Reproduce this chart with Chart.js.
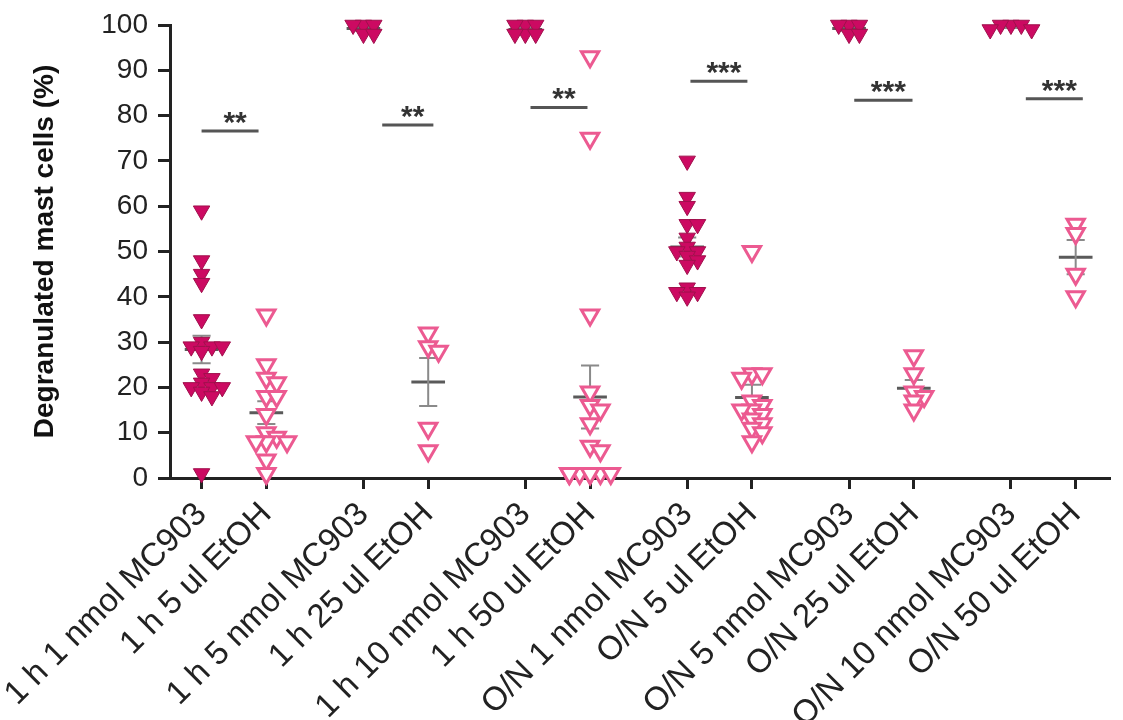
<!DOCTYPE html>
<html lang="en">
<head>
    <meta charset="UTF-8">
    <title>Degranulated mast cells</title>
    <style>
        body { margin: 0; background: #fff; }
        #wrap { width: 1123px; height: 720px; }
    </style>
    <script src="https://cdn.jsdelivr.net/npm/chart.js"></script>
</head>
<body>
<div id="wrap"><canvas id="grafico" width="1123" height="720"></canvas></div>
<script>
// categories and where they sit on the x axis (pairs, with a gap between pairs)
const labels = ['1 h 1 nmol MC903', '1 h 5 ul EtOH', '1 h 5 nmol MC903', '1 h 25 ul EtOH',
    '1 h 10 nmol MC903', '1 h 50 ul EtOH', 'O/N 1 nmol MC903', 'O/N 5 ul EtOH',
    'O/N 5 nmol MC903', 'O/N 25 ul EtOH', 'O/N 10 nmol MC903', 'O/N 50 ul EtOH'];
const xPos = [0, 1, 2.5, 3.5, 5, 6, 7.5, 8.5, 10, 11, 12.5, 13.5];
const yTicks = [0, 10, 20, 30, 40, 50, 60, 70, 80, 90, 100];

// % degranulated mast cells
const h1_mc1 = [59, 48, 45, 43, 35, 30, 29, 29, 29, 28, 23, 22, 21, 20, 20, 20, 19, 18, 1];
const h1_et5 = [36, 25, 22, 21, 18, 18, 14, 10, 9, 8, 8, 8, 4, 1];
const h1_mc5 = [100, 100, 100, 98, 98];
const h1_et25 = [32, 29, 28, 11, 6];
const h1_mc10 = [100, 100, 100, 98, 98, 98];
const h1_et50 = [93, 75, 36, 19, 16, 15, 12, 7, 6, 1, 1, 1, 1, 1, 1, 1];
const on_mc1 = [70, 62, 60, 56, 56, 53, 51, 50, 50, 49, 48, 47, 42, 41, 41, 40];
const on_et5 = [50, 23, 23, 22, 17, 16, 15, 15, 14, 13, 12, 11, 10, 8];
const on_mc5 = [100, 100, 100, 98, 98];
const on_et25 = [27, 23, 19, 18, 17, 15];
const on_mc10 = [100, 100, 100, 99, 99];
const on_et50 = [56, 54, 45, 40];

const groups = [h1_mc1, h1_et5, h1_mc5, h1_et25, h1_mc10, h1_et50,
    on_mc1, on_et5, on_mc5, on_et25, on_mc10, on_et50];

// significance bars
const sigFrom = [0, 2.79, 5.08, 7.55, 10.08, 12.73];
const sigTo = [0.88, 3.58, 5.96, 8.43, 10.98, 13.61];
const sigLevel = [76.6, 77.9, 81.8, 87.6, 83.4, 83.7];
const sigText = ['**', '**', '**', '***', '***', '***'];

// simple beeswarm so overlapping points spread sideways
function swarm(vals, center) {
    const step = 0.16, gap = 1.9;
    const order = [0, 1, -1, 2, -2];
    const placed = [];
    vals.forEach(v => {
        let pick = order.find(o => !placed.some(p => p.o === o && Math.abs(p.y - v) < gap));
        if (pick === undefined) pick = order[placed.length % order.length];
        placed.push({ y: v, o: pick });
    });
    return placed.map(p => ({ x: center + p.o * step, y: p.y }));
}

function meanSem(v) {
    const n = v.length;
    const m = v.reduce((a, b) => a + b, 0) / n;
    const sd = Math.sqrt(v.reduce((a, b) => a + (b - m) ** 2, 0) / (n - 1));
    return [m, sd / Math.sqrt(n)];
}

const filledPts = [], openPts = [], meanSeg = [], whiskSeg = [], sigSeg = [];
groups.forEach((g, i) => {
    const pts = swarm(g, xPos[i]);
    (i % 2 === 0 ? filledPts : openPts).push(...pts);
    const [m, s] = meanSem(g);
    const x = xPos[i];
    meanSeg.push({ x: x - 0.26, y: m }, { x: x + 0.26, y: m }, { x: x, y: null });
    whiskSeg.push({ x: x, y: m - s }, { x: x, y: m + s }, { x: x, y: null },
        { x: x - 0.14, y: m + s }, { x: x + 0.14, y: m + s }, { x: x, y: null },
        { x: x - 0.14, y: m - s }, { x: x + 0.14, y: m - s }, { x: x, y: null });
});
sigFrom.forEach((f, i) => {
    sigSeg.push({ x: f, y: sigLevel[i] }, { x: sigTo[i], y: sigLevel[i] }, { x: f, y: null });
});

// asterisks above the significance bars
const starPlugin = {
    id: 'stars',
    afterDatasetsDraw(chart) {
        const { ctx, scales: { x, y } } = chart;
        ctx.save();
        ctx.font = 'bold 30px "Liberation Sans", Arial, sans-serif';
        ctx.fillStyle = '#333';
        ctx.textAlign = 'center';
        ctx.textBaseline = 'alphabetic';
        sigText.forEach((t, i) => {
            const cx = x.getPixelForValue((sigFrom[i] + sigTo[i]) / 2) + 5;
            const cy = y.getPixelForValue(sigLevel[i]) + 1;
            ctx.fillText(t, cx, cy);
        });
        ctx.restore();
    }
};

const lineDs = (data, color, width) => ({
    type: 'line', data, borderColor: color, borderWidth: width,
    pointRadius: 0, spanGaps: false, fill: false, clip: false
});

const chart = new Chart(document.getElementById('grafico').getContext('2d'), {
    type: 'scatter',
    data: {
        datasets: [
            {
                data: filledPts, pointStyle: 'triangle', rotation: 180, pointRadius: 9.5,
                backgroundColor: '#cc0a62', borderColor: '#a0104c', borderWidth: 1, clip: false
            },
            {
                data: openPts, pointStyle: 'triangle', rotation: 180, pointRadius: 10,
                backgroundColor: '#ffffff', borderColor: '#ec5a91', borderWidth: 3, clip: false
            },
            lineDs(whiskSeg, '#8a8a8a', 2),
            lineDs(meanSeg, '#5a5a5a', 3),
            lineDs(sigSeg, '#555555', 3)
        ]
    },
    options: {
        responsive: false,
        animation: false,
        layout: { padding: { top: 25, left: 0, right: 0, bottom: 0 } },
        plugins: { legend: { display: false }, tooltip: { enabled: false } },
        scales: {
            x: {
                type: 'linear', min: -0.4876, max: 14.03,
                afterBuildTicks: s => { s.ticks = xPos.map(v => ({ value: v })); },
                afterFit: s => { s.height = 242; s.paddingLeft = 0; s.paddingRight = 0; },
                ticks: {
                    autoSkip: false, minRotation: 45, maxRotation: 45, padding: 6,
                    color: '#222', font: { family: '"Liberation Sans", Arial', size: 33 },
                    callback: v => labels[xPos.indexOf(v)]
                },
                grid: { drawOnChartArea: false, drawTicks: true, tickLength: 11, tickWidth: 3, tickColor: '#222' },
                border: { display: true, color: '#222', width: 3 }
            },
            y: {
                min: 0, max: 100,
                afterBuildTicks: s => { s.ticks = yTicks.map(v => ({ value: v })); },
                afterFit: s => { s.width = 170; s.paddingTop = 0; s.paddingBottom = 0; },
                ticks: {
                    padding: 10, color: '#222',
                    font: { family: '"Liberation Sans", Arial', size: 28 }
                },
                grid: { drawOnChartArea: false, drawTicks: true, tickLength: 12, tickWidth: 3, tickColor: '#222' },
                border: { display: true, color: '#222', width: 3 },
                title: {
                    display: true, text: 'Degranulated mast cells (%)', color: '#111',
                    font: { family: '"Liberation Sans", Arial', size: 28, weight: 'bold' },
                    padding: { top: 28, bottom: 0 }
                }
            }
        }
    },
    plugins: [starPlugin]
});
</script>
</body>
</html>
